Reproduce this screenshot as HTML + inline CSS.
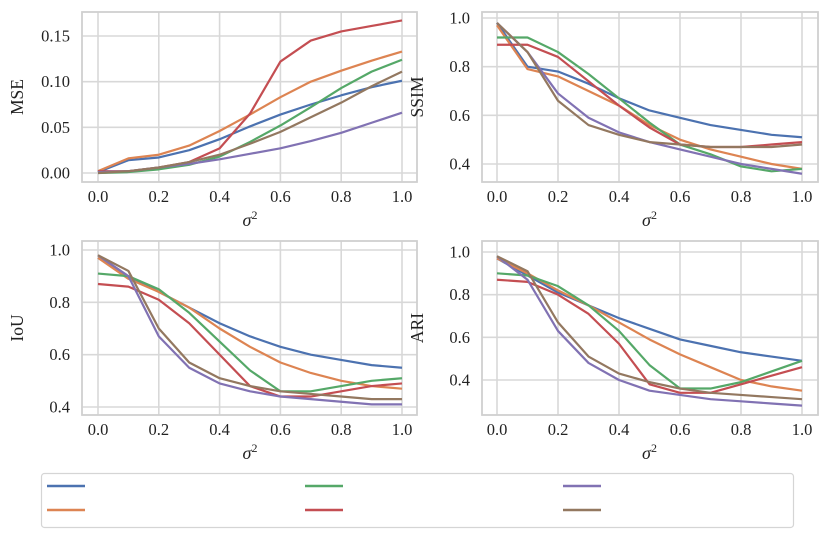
<!DOCTYPE html>
<html><head><meta charset="utf-8"><style>
body{margin:0;background:#fff;}
svg{display:block;font-family:"Liberation Serif",serif;}
</style></head><body>
<svg id="c" width="831" height="539" xmlns="http://www.w3.org/2000/svg"></svg>
<script>
const xs=[0,0.1,0.2,0.3,0.4,0.5,0.6,0.7,0.8,0.9,1.0];
const xTicks=[0,0.2,0.4,0.6,0.8,1.0];
const colors=["#4c72b0","#dd8452","#55a868","#c44e52","#8172b3","#937860"];
const seriesNames=["series-1","series-2","series-3","series-4","series-5","series-6"];
const mseTicks=[0,0.05,0.10,0.15];
const mseBlue=[0.001,0.014,0.017,0.025,0.037,0.051,0.064,0.075,0.085,0.094,0.101];
const mseOrange=[0.002,0.016,0.020,0.030,0.046,0.064,0.083,0.100,0.112,0.123,0.133];
const mseGreen=[0.000,0.001,0.004,0.009,0.018,0.034,0.052,0.072,0.093,0.111,0.124];
const mseRed=[0.002,0.002,0.006,0.012,0.027,0.065,0.122,0.145,0.155,0.161,0.167];
const msePurple=[0.001,0.002,0.006,0.010,0.015,0.021,0.027,0.035,0.044,0.055,0.066];
const mseBrown=[0.000,0.002,0.006,0.012,0.020,0.032,0.045,0.061,0.077,0.095,0.111];
const ssimTicks=[0.4,0.6,0.8,1.0];
const ssimBlue=[0.98,0.80,0.78,0.73,0.67,0.62,0.59,0.56,0.54,0.52,0.51];
const ssimOrange=[0.97,0.79,0.76,0.70,0.64,0.56,0.50,0.46,0.43,0.40,0.38];
const ssimGreen=[0.92,0.92,0.86,0.77,0.67,0.57,0.48,0.44,0.39,0.37,0.38];
const ssimRed=[0.89,0.89,0.84,0.74,0.64,0.55,0.48,0.47,0.47,0.48,0.49];
const ssimPurple=[0.98,0.86,0.69,0.59,0.53,0.49,0.46,0.43,0.40,0.38,0.36];
const ssimBrown=[0.98,0.86,0.66,0.56,0.52,0.49,0.48,0.47,0.47,0.47,0.48];
const iouTicks=[0.4,0.6,0.8,1.0];
const iouBlue=[0.97,0.90,0.84,0.78,0.72,0.67,0.63,0.60,0.58,0.56,0.55];
const iouOrange=[0.97,0.89,0.84,0.78,0.70,0.63,0.57,0.53,0.50,0.48,0.47];
const iouGreen=[0.91,0.90,0.85,0.76,0.65,0.54,0.46,0.46,0.48,0.50,0.51];
const iouRed=[0.87,0.86,0.81,0.72,0.60,0.48,0.44,0.44,0.46,0.48,0.49];
const iouPurple=[0.98,0.90,0.67,0.55,0.49,0.46,0.44,0.43,0.42,0.41,0.41];
const iouBrown=[0.98,0.92,0.70,0.57,0.51,0.48,0.46,0.45,0.44,0.43,0.43];
const ariTicks=[0.4,0.6,0.8,1.0];
const ariBlue=[0.97,0.89,0.81,0.75,0.69,0.64,0.59,0.56,0.53,0.51,0.49];
const ariOrange=[0.97,0.90,0.82,0.75,0.67,0.59,0.52,0.46,0.40,0.37,0.35];
const ariGreen=[0.90,0.89,0.84,0.75,0.63,0.47,0.36,0.36,0.39,0.44,0.49];
const ariRed=[0.87,0.86,0.80,0.71,0.57,0.38,0.34,0.34,0.38,0.42,0.46];
const ariPurple=[0.98,0.87,0.63,0.48,0.40,0.35,0.33,0.31,0.30,0.29,0.28];
const ariBrown=[0.98,0.91,0.67,0.51,0.43,0.39,0.36,0.34,0.33,0.32,0.31];

const NS="http://www.w3.org/2000/svg";
const svg=document.getElementById('c');
function mk(tag,attrs,parent){const e=document.createElementNS(NS,tag);for(const k in attrs)e.setAttribute(k,attrs[k]);(parent||svg).appendChild(e);return e;}

function panel(name,box,xr,yr,yTicks,yFmt,yLabel,series){
  const g=mk('g',{});
  
  
  const X=v=>xr[0]+v*(xr[1]-xr[0]);
  const Y=v=>yr.y0+(v-yr.v0)*(yr.y1-yr.y0)/(yr.v1-yr.v0);
  mk('rect',{x:box[0],y:box[1],width:box[2]-box[0],height:box[3]-box[1],fill:'#fff'},g);
  xTicks.forEach(t=>{
    mk('line',{x1:X(t),x2:X(t),y1:box[1],y2:box[3],stroke:'#d8d8d8','stroke-width':1.6},g);
    const tx=mk('text',{x:X(t),y:box[3]+20,'text-anchor':'middle','font-size':16.5,fill:'#222'},g);
    tx.textContent=t.toFixed(1);
    
    
  });
  yTicks.forEach(t=>{
    mk('line',{x1:box[0],x2:box[2],y1:Y(t),y2:Y(t),stroke:'#d8d8d8','stroke-width':1.6},g);
    const tx=mk('text',{x:box[0]-12,y:Y(t)+5.5,'text-anchor':'end','font-size':16.5,fill:'#222'},g);
    tx.textContent=t.toFixed(yFmt);
    
    
  });
  mk('rect',{x:box[0],y:box[1],width:box[2]-box[0],height:box[3]-box[1],fill:'none',stroke:'#d0d0d0','stroke-width':1.8},g);
  series.forEach((s,i)=>{
    const p=mk('polyline',{points:s.map((v,j)=>X(xs[j])+','+Y(v)).join(' '),fill:'none',stroke:colors[i],'stroke-width':2.2,'stroke-linejoin':'round'},g);
    
    
  });
  const xl=mk('text',{x:(X(0)+X(1))/2,y:box[3]+44,'text-anchor':'middle','font-size':18,'font-style':'italic',fill:'#222'},g);
  xl.innerHTML='σ<tspan dy="-7" font-size="12" font-style="normal">2</tspan>';
  
  
  const cy=(box[1]+box[3])/2, cx=box[0]-59;
  const yl=mk('text',{x:cx,y:cy,'text-anchor':'middle','font-size':17.5,fill:'#222',transform:`rotate(-90 ${cx} ${cy})`},g);
  yl.textContent=yLabel;
  
  
}
panel('mse',[82,12,417,182],[98,402],{v0:0,y0:173,v1:0.15,y1:36},mseTicks,2,'MSE',[mseBlue,mseOrange,mseGreen,mseRed,msePurple,mseBrown]);
panel('ssim',[482,12,818,182],[497,802],{v0:0.4,y0:164,v1:1.0,y1:18},ssimTicks,1,'SSIM',[ssimBlue,ssimOrange,ssimGreen,ssimRed,ssimPurple,ssimBrown]);
panel('iou',[82,241,417,415],[98,402],{v0:0.4,y0:407,v1:1.0,y1:250},iouTicks,1,'IoU',[iouBlue,iouOrange,iouGreen,iouRed,iouPurple,iouBrown]);
panel('ari',[482,241,818,415],[497,802],{v0:0.4,y0:380,v1:1.0,y1:252},ariTicks,1,'ARI',[ariBlue,ariOrange,ariGreen,ariRed,ariPurple,ariBrown]);

const lg=mk('g',{});


mk('rect',{x:41.5,y:473.5,width:752,height:54,rx:3,fill:'#fff',stroke:'#d5d5d5','stroke-width':1.2},lg);
const order=[0,2,4,1,3,5];
const lx=[47,305,563], ly=[486,510];
order.forEach((si,k)=>{
  const col=k%3, row=Math.floor(k/3);
  const l=mk('line',{x1:lx[col],x2:lx[col]+38,y1:ly[row],y2:ly[row],stroke:colors[si],'stroke-width':2.5},lg);
  
  
});
</script>
</body></html>
